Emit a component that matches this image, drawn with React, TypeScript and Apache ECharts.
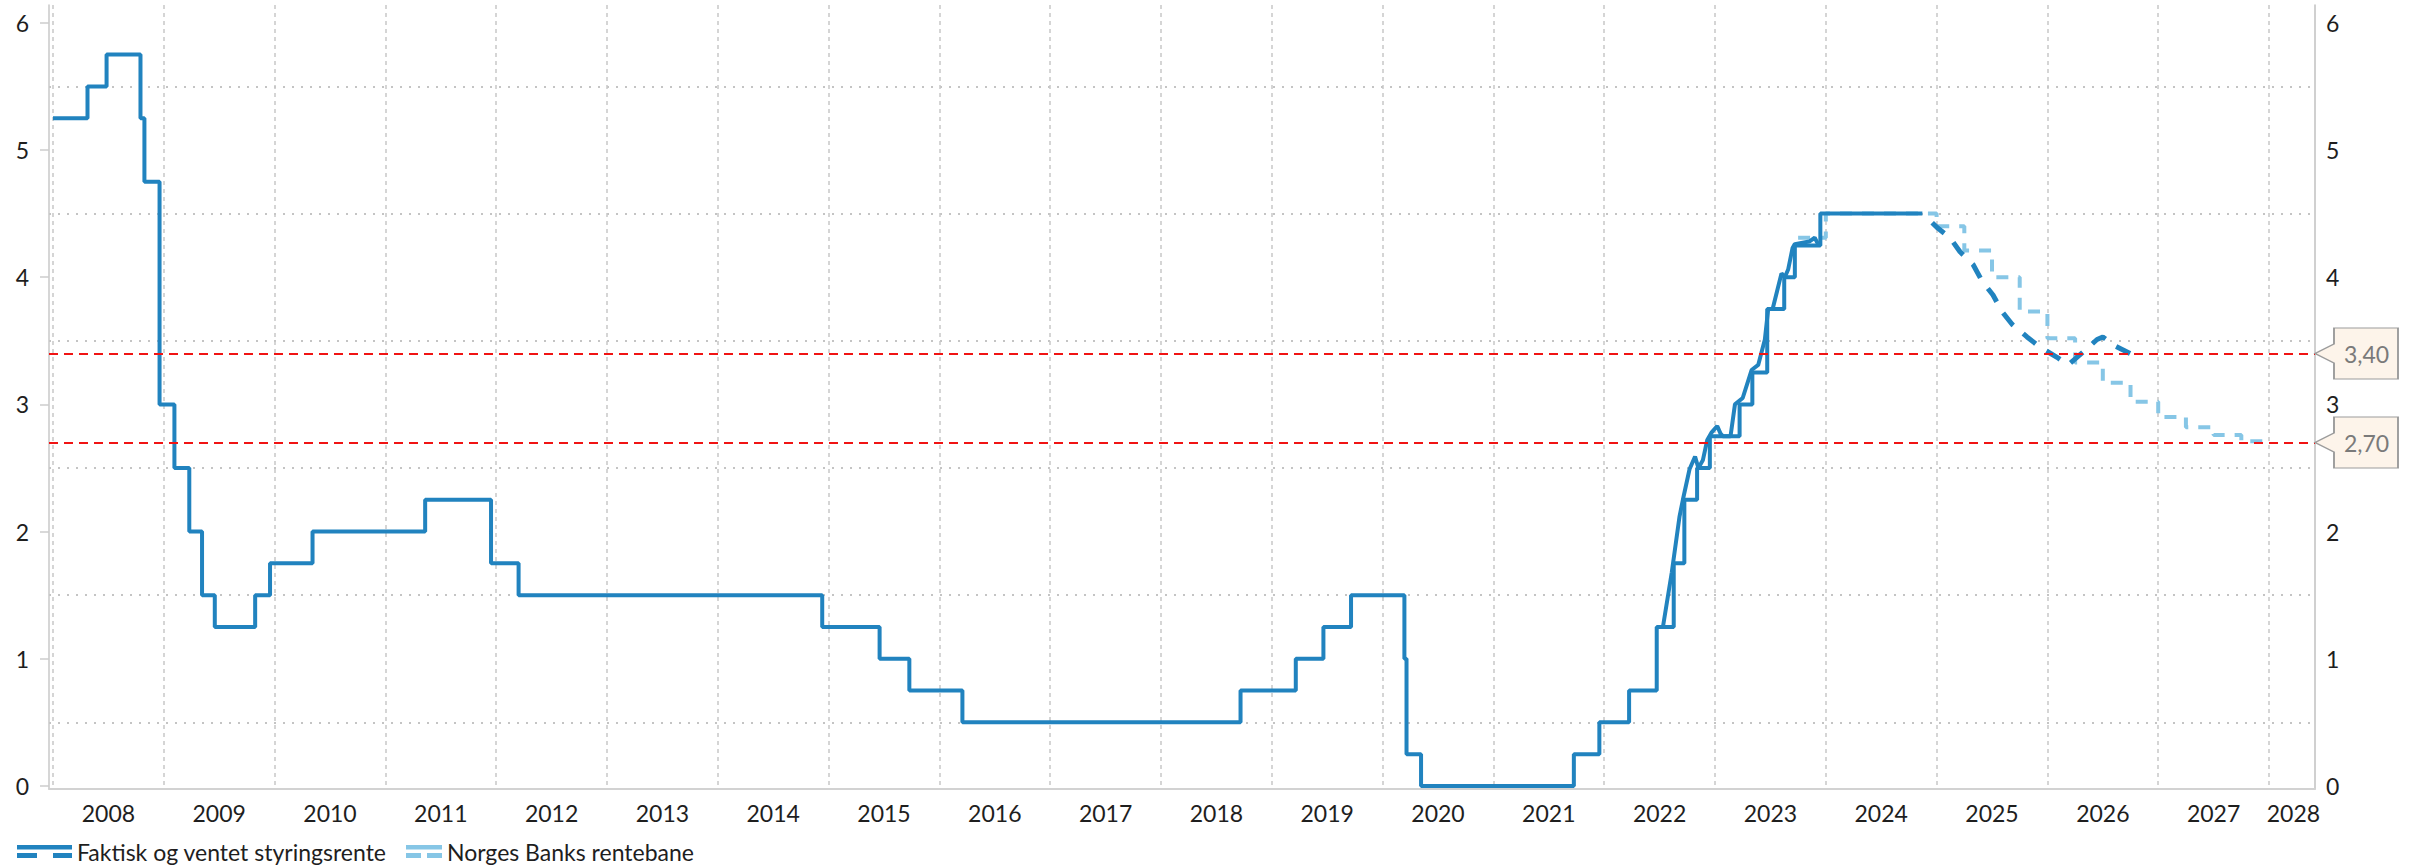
import React, { useEffect, useRef } from "react";
import * as echarts from "echarts";

// ---------- data ----------
const yearTicks = [2008, 2009, 2010, 2011, 2012, 2013, 2014, 2015, 2016, 2017, 2018, 2019, 2020, 2021, 2022, 2023, 2024, 2025, 2026, 2027, 2028];
const yearLabelPositions = [2008.5, 2009.5, 2010.5, 2011.5, 2012.5, 2013.5, 2014.5, 2015.5, 2016.5, 2017.5, 2018.5, 2019.5, 2020.5, 2021.5, 2022.5, 2023.5, 2024.5, 2025.5, 2026.5, 2027.5, 2028.22];
const yLabelValues = [0, 1, 2, 3, 4, 5, 6];
const yGridValues = [0.5, 1.5, 2.5, 3.5, 4.5, 5.5];

// Actual policy rate (step changes)
const policyDates = [
  "2008-01-01", "2008-04-24", "2008-06-26", "2008-10-16", "2008-10-29", "2008-12-18",
  "2009-02-05", "2009-03-26", "2009-05-07", "2009-06-18", "2009-10-29", "2009-12-17",
  "2010-05-06", "2011-05-12", "2011-12-15", "2012-03-15", "2014-12-11", "2015-06-18",
  "2015-09-24", "2016-03-17", "2018-09-20", "2019-03-21", "2019-06-20", "2019-09-19",
  "2020-03-13", "2020-03-20", "2020-05-07", "2021-09-23", "2021-12-16", "2022-03-24",
  "2022-06-23", "2022-08-18", "2022-09-22", "2022-11-03", "2022-12-15", "2023-03-23",
  "2023-05-04", "2023-06-22", "2023-08-17", "2023-09-21", "2023-12-14", "2024-11-15",
];
const policyRates = [
  5.25, 5.5, 5.75, 5.25, 4.75, 3.0,
  2.5, 2.0, 1.5, 1.25, 1.5, 1.75,
  2.0, 2.25, 1.75, 1.5, 1.25, 1.0,
  0.75, 0.5, 0.75, 1.0, 1.25, 1.5,
  1.0, 0.25, 0.0, 0.25, 0.5, 0.75,
  1.25, 1.75, 2.25, 2.5, 2.75, 3.0,
  3.25, 3.75, 4.0, 4.25, 4.5, 4.5,
];

// Expected rate, solid part drawn over the hikes of 2022-2023
const smoothYears = [2022.53, 2022.61, 2022.68, 2022.71, 2022.77, 2022.82, 2022.85, 2022.89, 2022.93, 2022.97, 2023.02, 2023.05, 2023.07, 2023.14, 2023.18, 2023.25, 2023.33, 2023.39, 2023.45, 2023.48, 2023.52, 2023.6, 2023.63, 2023.66, 2023.7, 2023.72, 2023.85, 2023.9, 2023.93];
const smoothRates = [1.25, 1.68, 2.12, 2.25, 2.49, 2.59, 2.5, 2.56, 2.72, 2.78, 2.83, 2.77, 2.75, 2.75, 3.0, 3.05, 3.27, 3.31, 3.51, 3.75, 3.75, 4.03, 4.0, 4.06, 4.23, 4.26, 4.28, 4.31, 4.26];

// Expected rate, dashed future part
const expectedYears = [2024.877, 2025.004, 2025.121, 2025.211, 2025.329, 2025.41, 2025.509, 2025.59, 2025.681, 2025.816, 2025.933, 2026.087, 2026.186, 2026.321, 2026.448, 2026.5, 2026.61, 2026.746];
const expectedRates = [4.5, 4.39, 4.31, 4.2, 4.1, 3.97, 3.86, 3.73, 3.63, 3.53, 3.45, 3.37, 3.31, 3.41, 3.51, 3.53, 3.46, 3.4];

// Norges Bank's rate path (quarterly)
const pathYears = [2023.75, 2024.0, 2025.0, 2025.25, 2025.5, 2025.75, 2026.0, 2026.25, 2026.5, 2026.75, 2027.0, 2027.25, 2027.5, 2027.75, 2028.0];
const pathRates = [4.31, 4.5, 4.4, 4.21, 4.0, 3.73, 3.52, 3.33, 3.17, 3.02, 2.9, 2.82, 2.76, 2.71, 2.7];

const markerValues = [3.4, 2.7];
const markerLabels = ["3,40", "2,70"];

const seriesNames = ["Faktisk og ventet styringsrente", "Norges Banks rentebane"];

// ---------- helpers ----------
function toYear(s: string): number {
  const [y, m, d] = s.split("-").map(Number);
  const start = Date.UTC(y, 0, 1);
  const end = Date.UTC(y + 1, 0, 1);
  return y + (Date.UTC(y, m - 1, d) - start) / (end - start);
}

const X_MIN = 2007.964;
const X_MAX = 2028.415;
const Y_MIN = -0.024;
const Y_MAX = 6.14;

const DARK = "#2183bf";
const LIGHT = "#86c6e6";
const FONT = "Lato, 'Liberation Sans', sans-serif";
const TEXT = "#1e1e1e";
const FS = 23;

const ICON_WIDE = "path://M0,0H55V4.5H0Z M0,8H20V13H0Z M36,8H55V13H36Z";
const ICON_NARROW = "path://M0,0H36V4.5H0Z M0,8H15V13H0Z M21,8H36V13H21Z";
const CALLOUT = "path://M19,0L83,0L83,51L19,51L19,35L0,25.5L19,16Z";

export default function App() {
  const ref = useRef<HTMLDivElement>(null);

  useEffect(() => {
    document.body.style.margin = "0";
    if (!ref.current) return;
    const chart = echarts.init(ref.current, undefined, { renderer: "svg" });

    const policyData = policyDates.map((d, i) => [toYear(d), policyRates[i]]);
    const smoothData = smoothYears.map((x, i) => [x, smoothRates[i]]);
    const expectedData = expectedYears.map((x, i) => [x, expectedRates[i]]);
    const pathData = pathYears.map((x, i) => [x, pathRates[i]]);

    const legendBase = {
      top: 840,
      itemHeight: 13,
      symbolKeepAspect: false,
      selectedMode: false,
      padding: 0,
      textStyle: { fontSize: FS, color: TEXT, fontFamily: FONT },
    };

    const option: any = {
      animation: false,
      backgroundColor: "#ffffff",
      textStyle: { fontFamily: FONT },
      grid: { left: 49, right: 102, top: 5, bottom: 79, containLabel: false, outerBoundsMode: "none" },
      legend: [
        { ...legendBase, left: 17, itemWidth: 55, data: [{ name: seriesNames[0], icon: ICON_WIDE }] },
        { ...legendBase, left: 406, itemWidth: 36, data: [{ name: seriesNames[1], icon: ICON_NARROW }] },
      ],
      xAxis: {
        type: "value",
        min: X_MIN,
        max: X_MAX,
        axisLine: { show: true, onZero: false, lineStyle: { color: "#d2d2d2", width: 2 } },
        axisTick: { show: false, customValues: yearTicks },
        axisLabel: {
          customValues: yearLabelPositions,
          formatter: (v: number) => String(Math.floor(v)),
          fontSize: FS,
          color: TEXT,
          fontFamily: FONT,
          margin: 12,
        },
        splitLine: { show: true, lineStyle: { color: "#c8c8c8", width: 1.5, type: [4, 4] } },
      },
      yAxis: [
        {
          type: "value",
          position: "left",
          min: Y_MIN,
          max: Y_MAX,
          axisLine: { show: true, lineStyle: { color: "#c8c8c8", width: 1.5 } },
          axisTick: { show: true, length: 9, customValues: yLabelValues, lineStyle: { color: "#cccccc", width: 1.5 } },
          axisLabel: { customValues: yLabelValues, fontSize: FS, color: TEXT, fontFamily: FONT, margin: 20 },
          splitLine: { show: false },
        },
        {
          type: "value",
          position: "right",
          min: Y_MIN,
          max: Y_MAX,
          axisLine: { show: true, lineStyle: { color: "#c0c0c0", width: 1.5 } },
          axisTick: { show: false, customValues: yGridValues },
          axisLabel: { customValues: yLabelValues, fontSize: FS, color: TEXT, fontFamily: FONT, margin: 11 },
          splitLine: { show: true, lineStyle: { color: "#c4c4c4", width: 2, type: [2, 7] } },
        },
      ],
      series: [
        {
          name: seriesNames[1],
          type: "line",
          step: "end",
          data: pathData,
          color: LIGHT,
          showSymbol: false,
          clip: false,
          lineStyle: { color: LIGHT, width: 4, type: [12, 10] },
          markLine: {
            silent: true,
            symbol: "none",
            label: { show: false },
            lineStyle: { color: "#f01414", width: 2, type: [9, 6] },
            data: markerValues.map((v) => ({ yAxis: v })),
          },
          markPoint: {
            silent: true,
            symbol: CALLOUT,
            symbolSize: [83, 51],
            symbolOffset: [41.5, 0],
            itemStyle: { color: "#fdf4ea", borderColor: "#9c9c9c", borderWidth: 1.5 },
            label: {
              show: true,
              position: "inside",
              offset: [10, 0],
              fontSize: 23,
              color: "#7a7a7a",
              fontFamily: FONT,
            },
            data: markerValues.map((v, i) => ({
              coord: [X_MAX, v],
              label: { formatter: markerLabels[i] },
            })),
          },
        },
        {
          name: seriesNames[0],
          type: "line",
          step: "end",
          data: policyData,
          color: DARK,
          showSymbol: false,
          lineStyle: { color: DARK, width: 4 },
        },
        {
          name: seriesNames[0],
          type: "line",
          data: smoothData,
          color: DARK,
          showSymbol: false,
          lineStyle: { color: DARK, width: 4 },
        },
        {
          name: seriesNames[0],
          type: "line",
          data: expectedData,
          color: DARK,
          showSymbol: false,
          lineStyle: { color: DARK, width: 5, type: [16, 13], dashOffset: 16 },
        },
      ],
    };

    chart.setOption(option);
    return () => chart.dispose();
  }, []);

  return <div ref={ref} style={{ width: 2417, height: 868 }} />;
}
